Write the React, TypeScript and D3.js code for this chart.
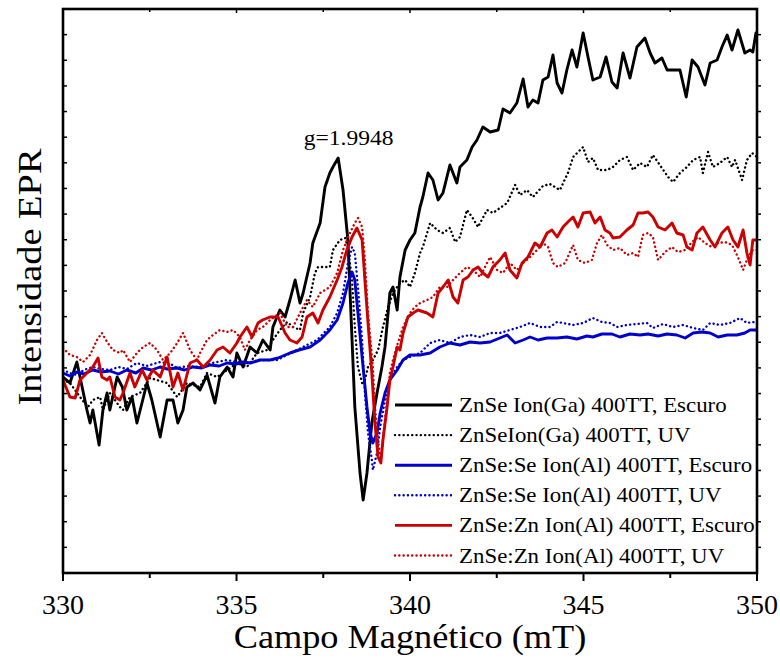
import React from "react";
import * as d3 from "d3";

// Magnetic field (mT) and EPR intensity (a.u.) pairs
const blackDark: [number, number][] = [
  [330.0,196],[330.2,190],[330.4,211],[330.69,163],[330.78,150],[330.86,163],[331.04,128],[331.15,163],[331.27,180],[331.35,163],
  [331.56,196],[331.71,186],[331.84,163],[331.99,176],[332.13,150],[332.42,190],[332.56,173],[332.8,136],[333.0,173],[333.17,173],
  [333.31,150],[333.46,163],[333.57,186],[333.75,190],[333.95,183],[334.15,198],[334.38,170],[334.52,196],[334.73,206],[334.9,196],
  [335.01,220],[335.19,206],[335.39,226],[335.59,220],[335.76,233],[335.97,223],[336.05,246],[336.25,263],[336.4,256],[336.54,273],
  [336.69,293],[336.83,270],[336.92,280],[337.12,310],[337.2,330],[337.41,350],[337.55,386],[337.69,400],[337.78,406],[337.93,415],
  [338.07,383],[338.21,333],[338.33,233],[338.41,166],[338.56,100],[338.65,73],[338.76,100],[338.9,150],[339.05,180],[339.19,206],
  [339.28,226],[339.42,280],[339.51,286],[339.63,263],[339.71,296],[339.86,323],[340.0,333],[340.14,340],[340.29,366],[340.37,376],
  [340.52,400],[340.66,393],[340.81,373],[340.95,380],[341.15,408],[341.35,390],[341.44,406],[341.64,413],[341.79,426],[341.93,433],
  [342.1,446],[342.31,441],[342.54,443],[342.68,464],[342.88,460],[343.08,470],[343.26,494],[343.4,466],[343.54,473],[343.69,470],
  [343.83,493],[343.98,496],[344.12,518],[344.24,490],[344.38,480],[344.52,503],[344.67,523],[344.81,506],[344.99,540],[345.13,516],
  [345.27,493],[345.48,496],[345.65,516],[345.82,491],[345.97,485],[346.14,520],[346.34,495],[346.54,526],[346.77,535],[346.92,520],
  [347.06,510],[347.26,515],[347.41,503],[347.58,503],[347.78,503],[347.96,476],[348.13,513],[348.3,506],[348.5,488],[348.65,510],
  [348.85,513],[348.99,526],[349.14,538],[349.28,523],[349.45,543],[349.65,520],[349.8,523],[349.88,521],[349.97,540],[350.0,535],
];

const blackUV: [number, number][] = [
  [330.0,193],[330.2,190],[330.49,176],[330.72,166],[330.86,173],[331.07,176],[331.15,163],[331.35,180],[331.64,166],[331.73,163],
  [331.93,176],[332.22,180],[332.51,195],[332.71,193],[333.0,190],[333.29,176],[333.43,183],[333.57,190],[333.95,186],[334.15,200],
  [334.44,196],[334.73,203],[335.01,210],[335.3,206],[335.59,220],[335.88,223],[336.05,233],[336.25,243],[336.46,251],[336.63,246],
  [336.83,243],[336.92,260],[337.12,276],[337.26,300],[337.35,306],[337.55,306],[337.69,306],[337.78,323],[337.98,333],[338.13,335],
  [338.21,326],[338.33,293],[338.41,246],[338.5,206],[338.62,190],[338.7,193],[338.79,206],[338.93,213],[339.08,223],[339.22,246],
  [339.37,266],[339.51,280],[339.71,290],[339.86,293],[340.0,286],[340.14,300],[340.29,320],[340.37,326],[340.58,350],[340.78,343],
  [340.95,340],[341.15,345],[341.3,331],[341.44,336],[341.64,363],[341.79,356],[341.96,346],[342.22,363],[342.39,360],[342.59,365],
  [342.8,370],[343.03,388],[343.17,378],[343.37,383],[343.54,376],[343.83,387],[344.03,389],[344.32,383],[344.55,400],[344.7,416],
  [344.99,426],[345.13,411],[345.27,415],[345.42,403],[345.68,403],[345.85,406],[346.05,413],[346.25,416],[346.43,403],[346.63,410],
  [346.83,406],[347.0,418],[347.26,405],[347.44,396],[347.58,391],[347.78,400],[347.98,406],[348.16,413],[348.36,416],[348.44,400],
  [348.59,421],[348.73,406],[348.93,410],[349.14,416],[349.28,406],[349.37,413],[349.57,393],[349.71,413],[349.86,420],[350.0,416],
];

const blueDark: [number, number][] = [
  [330.0,200],[330.2,197],[330.4,201],[330.6,199],[330.86,203],[331.1,201],[331.35,202],[331.6,199],[331.84,203],[332.1,200],
  [332.31,205],[332.55,203],[332.8,206],[333.0,204],[333.29,205],[333.5,203],[333.75,206],[334.0,205],[334.24,208],[334.5,207],
  [334.73,210],[335.0,209],[335.19,211],[335.4,210],[335.68,213],[335.97,213],[336.2,215],[336.54,220],[336.8,223],[337.12,226],
  [337.41,233],[337.69,243],[337.9,253],[338.07,270],[338.21,290],[338.33,301],[338.41,293],[338.5,260],[338.62,216],[338.76,166],
  [338.85,140],[338.93,130],[339.05,140],[339.14,160],[339.28,180],[339.42,193],[339.63,203],[339.8,213],[340.0,218],[340.29,218],
  [340.58,220],[340.86,226],[341.15,230],[341.44,228],[341.73,231],[342.02,230],[342.31,231],[342.59,235],[342.8,238],[343.03,230],
  [343.26,233],[343.46,236],[343.69,233],[343.95,235],[344.24,235],[344.52,236],[344.81,234],[345.1,237],[345.27,236],[345.53,239],
  [345.82,239],[346.05,236],[346.34,239],[346.63,238],[346.86,239],[347.15,237],[347.41,239],[347.69,238],[347.93,235],[348.16,240],
  [348.41,241],[348.65,240],[348.88,236],[349.14,238],[349.42,238],[349.65,240],[349.8,243],[350.0,243],
];

const blueUV: [number, number][] = [
  [330.0,203],[330.2,200],[330.4,198],[330.6,203],[330.86,206],[331.1,204],[331.35,203],[331.6,206],[331.84,204],[332.13,210],
  [332.4,207],[332.8,211],[333.1,209],[333.29,205],[333.6,207],[333.95,206],[334.3,210],[334.73,213],[335.0,211],[335.3,210],
  [335.68,213],[336.17,213],[336.74,223],[337.32,233],[337.69,246],[337.9,260],[338.07,280],[338.21,310],[338.33,326],[338.41,320],
  [338.5,286],[338.62,233],[338.7,180],[338.79,140],[338.9,113],[338.93,103],[339.05,120],[339.14,146],[339.28,173],[339.42,193],
  [339.63,206],[339.8,213],[340.0,216],[340.29,220],[340.58,230],[340.86,233],[341.15,230],[341.44,236],[341.73,238],[342.02,236],
  [342.31,240],[342.59,240],[342.88,243],[343.17,246],[343.46,250],[343.75,246],[344.03,246],[344.24,251],[344.41,250],[344.7,248],
  [344.99,250],[345.27,255],[345.53,251],[345.76,250],[345.97,246],[346.25,248],[346.54,249],[346.83,250],[347.0,245],[347.29,249],
  [347.58,246],[347.87,248],[348.16,245],[348.44,243],[348.65,250],[348.93,248],[349.22,250],[349.51,255],[349.71,250],[349.88,251],[350.0,250],
];

const redDark: [number, number][] = [
  [330.0,193],[330.2,176],[330.35,175],[330.49,193],[330.69,200],[330.86,206],[331.01,215],[331.12,196],[331.27,193],[331.35,196],
  [331.5,176],[331.64,173],[331.73,180],[331.93,200],[332.07,186],[332.28,203],[332.42,193],[332.59,203],[332.8,196],[333.0,216],
  [333.17,186],[333.31,200],[333.46,183],[333.66,210],[333.86,213],[334.04,206],[334.24,213],[334.44,223],[334.61,226],[334.81,220],
  [335.01,230],[335.1,236],[335.3,246],[335.45,236],[335.62,250],[335.75,253],[335.97,256],[336.2,256],[336.4,240],[336.54,233],
  [336.74,230],[336.89,236],[337.03,256],[337.2,260],[337.35,250],[337.49,263],[337.69,276],[337.9,293],[338.04,306],[338.18,323],
  [338.33,336],[338.47,345],[338.62,333],[338.7,293],[338.79,250],[338.9,200],[338.99,150],[339.08,116],[339.16,110],[339.22,133],
  [339.34,166],[339.42,193],[339.51,206],[339.63,226],[339.71,223],[339.8,240],[339.94,256],[340.09,260],[340.23,263],[340.49,260],
  [340.66,256],[340.81,280],[340.95,286],[341.1,293],[341.24,276],[341.38,270],[341.53,293],[341.67,296],[341.82,303],[341.96,306],
  [342.1,300],[342.25,296],[342.39,306],[342.59,313],[342.74,320],[342.88,303],[343.08,295],[343.23,310],[343.4,316],[343.6,330],
  [343.75,326],[343.95,340],[344.09,343],[344.24,336],[344.41,346],[344.55,351],[344.7,356],[344.84,346],[344.99,360],[345.19,361],
  [345.33,350],[345.48,356],[345.62,343],[345.76,340],[345.85,335],[346.05,336],[346.25,343],[346.43,348],[346.57,360],[346.71,360],
  [346.86,361],[347.0,356],[347.15,346],[347.35,343],[347.55,350],[347.69,340],[347.87,338],[347.98,326],[348.13,323],[348.27,340],
  [348.44,346],[348.65,333],[348.79,326],[348.99,340],[349.16,346],[349.31,333],[349.45,326],[349.6,343],[349.71,320],[349.8,308],
  [349.88,333],[350.0,333],
];

const redUV: [number, number][] = [
  [330.0,225],[330.2,218],[330.4,216],[330.58,211],[330.78,218],[330.98,233],[331.12,240],[331.27,231],[331.44,223],[331.64,220],
  [331.73,223],[331.93,211],[332.13,220],[332.31,226],[332.51,230],[332.71,223],[332.88,213],[333.09,220],[333.29,230],[333.46,240],
  [333.66,223],[333.86,213],[333.95,220],[334.15,233],[334.32,238],[334.52,243],[334.73,241],[334.9,243],[335.1,236],[335.24,223],
  [335.39,233],[335.59,243],[335.76,246],[335.97,253],[336.25,260],[336.46,246],[336.63,246],[336.83,260],[337.03,273],[337.2,266],
  [337.41,280],[337.69,286],[337.9,300],[338.07,323],[338.27,340],[338.41,350],[338.5,355],[338.62,346],[338.7,313],[338.79,260],
  [338.93,206],[338.99,166],[339.08,133],[339.16,113],[339.22,133],[339.34,173],[339.42,200],[339.51,213],[339.65,230],[339.8,246],
  [340.0,260],[340.14,266],[340.29,270],[340.49,273],[340.66,276],[340.86,286],[341.07,286],[341.24,293],[341.44,300],[341.64,306],
  [341.82,303],[342.02,296],[342.22,310],[342.31,316],[342.51,303],[342.68,300],[342.88,310],[343.08,303],[343.26,310],[343.46,316],
  [343.66,323],[343.83,330],[343.98,326],[344.12,310],[344.26,306],[344.47,310],[344.61,321],[344.7,328],[344.84,313],[345.04,310],
  [345.24,313],[345.39,330],[345.53,338],[345.68,328],[345.85,323],[346.05,325],[346.25,318],[346.43,320],[346.57,316],[346.71,338],
  [346.86,340],[347.0,336],[347.15,313],[347.35,321],[347.55,326],[347.72,321],[347.93,323],[348.13,331],[348.3,336],[348.5,330],
  [348.7,326],[348.88,330],[349.08,331],[349.28,328],[349.45,316],[349.6,303],[349.74,316],[349.88,323],[350.0,323],
];

const seriesLabels = [
  "ZnSe Ion(Ga) 400TT, Escuro",
  "ZnSeIon(Ga) 400TT, UV",
  "ZnSe:Se Ion(Al) 400TT, Escuro",
  "ZnSe:Se Ion(Al) 400TT, UV",
  "ZnSe:Zn Ion(Al) 400TT, Escuro",
  "ZnSe:Zn Ion(Al) 400TT, UV",
];
const seriesData = [blackDark, blackUV, blueDark, blueUV, redDark, redUV];
const seriesColors = ["#000000", "#000000", "#0000cc", "#0000cc", "#cc0000", "#cc0000"];
const seriesDotted = [false, true, false, true, false, true];

const xMajorTicks = [330, 335, 340, 345, 350];
const xMinorTicks = [332.5, 337.5, 342.5, 347.5];
const xDomain: [number, number] = [330, 350];
const yDomain: [number, number] = [0, 564];
const yTickCount = 22;
const peakLabel = "g=1.9948";
const peakField = 338.0;
const peakIntensity = 415;

const W = 780, H = 662;
const M = { left: 63, right: 23, top: 9, bottom: 89 };
const FONT = "Liberation Serif, DejaVu Serif, serif";

export default function App() {
  const x = d3.scaleLinear().domain(xDomain).range([M.left, W - M.right]);
  const y = d3.scaleLinear().domain(yDomain).range([H - M.bottom, M.top]);
  const line = d3.line<[number, number]>().x(d => x(d[0])).y(d => y(d[1]));
  const yTicks = d3.range(1, yTickCount).map(k => yDomain[0] + (k * (yDomain[1] - yDomain[0])) / yTickCount);
  const x0 = x.range()[0], x1 = x.range()[1], y0 = y.range()[0], y1 = y.range()[1];

  const legendX = 395, legendY = 405, legendDy = 30.1;
  const tStyle = { fontFamily: FONT };

  return (
    <svg width={W} height={H} style={{ position: "absolute", left: 0, top: 0, background: "#fff", fontFamily: FONT }}>
      <rect x={0} y={0} width={W} height={H} fill="#fff" />
      <defs>
        <clipPath id="plotClip">
          <rect x={x0} y={y1} width={x1 - x0} height={y0 - y1} />
        </clipPath>
      </defs>
      <g clipPath="url(#plotClip)">
        {seriesData.map((d, i) => (
          <path
            key={i}
            d={line(d) || ""}
            fill="none"
            stroke={seriesColors[i]}
            strokeWidth={seriesDotted[i] ? 2.4 : 2.9}
            strokeDasharray={seriesDotted[i] ? "0.1 4.2" : undefined}
            strokeLinecap={seriesDotted[i] ? "round" : "butt"}
            strokeLinejoin="round"
          />
        ))}
      </g>
      {/* frame */}
      <rect x={x0} y={y1} width={x1 - x0} height={y0 - y1} fill="none" stroke="#000" strokeWidth={2.6} />
      {/* x ticks */}
      {xMajorTicks.map(t => (
        <g key={"M" + t}>
          <line x1={x(t)} x2={x(t)} y1={y0} y2={y0 + 8} stroke="#000" strokeWidth={2} />
          <line x1={x(t)} x2={x(t)} y1={y1} y2={y1 + 4} stroke="#000" strokeWidth={1.5} />
          <text x={x(t)} y={y0 + 41} textAnchor="middle" fontSize={28} style={tStyle}>{t}</text>
        </g>
      ))}
      {xMinorTicks.map(t => (
        <g key={"m" + t}>
          <line x1={x(t)} x2={x(t)} y1={y0} y2={y0 + 5} stroke="#000" strokeWidth={2} />
          <line x1={x(t)} x2={x(t)} y1={y1} y2={y1 + 3} stroke="#000" strokeWidth={1.5} />
        </g>
      ))}
      {/* y ticks */}
      {yTicks.map((t, i) => (
        <g key={"y" + i}>
          <line x1={x0} x2={x0 + 4} y1={y(t)} y2={y(t)} stroke="#000" strokeWidth={1.5} />
          <line x1={x1} x2={x1 + 4} y1={y(t)} y2={y(t)} stroke="#000" strokeWidth={1.5} />
        </g>
      ))}
      {/* axis titles */}
      <text transform={`translate(${(x0 + x1) / 2}, 648) scale(1.1, 1)`} textAnchor="middle" fontSize={33} style={tStyle}>Campo Magnético (mT)</text>
      <text transform={`translate(41, 277) rotate(-90) scale(1.13, 1)`} textAnchor="middle" fontSize={34} style={tStyle}>Intensidade EPR</text>
      {/* peak annotation */}
      <text transform={`translate(${x(peakField) + 8}, ${y(peakIntensity) - 13}) scale(1.07, 1)`} textAnchor="middle" fontSize={22} style={tStyle}>{peakLabel}</text>
      {/* legend */}
      {seriesLabels.map((lab, i) => (
        <g key={"l" + i} transform={`translate(${legendX}, ${legendY + i * legendDy})`}>
          <line
            x1={0}
            x2={57}
            y1={0}
            y2={0}
            stroke={seriesColors[i]}
            strokeWidth={seriesDotted[i] ? 2.4 : 2.9}
            strokeDasharray={seriesDotted[i] ? "0.1 4.2" : undefined}
            strokeLinecap={seriesDotted[i] ? "round" : "butt"}
          />
          <text transform="translate(64, 7) scale(1.09, 1)" fontSize={21} style={tStyle}>{lab}</text>
        </g>
      ))}
    </svg>
  );
}
